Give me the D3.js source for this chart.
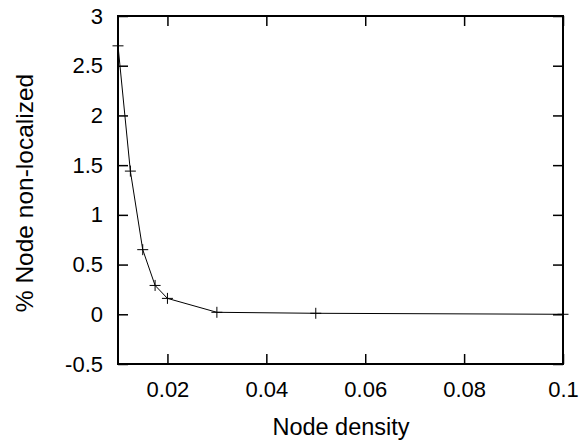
<!DOCTYPE html>
<html>
<head>
<meta charset="utf-8">
<script src="https://cdn.jsdelivr.net/npm/d3@7"></script>
<style>
  body { margin: 0; background: #fff; }
  svg text { font-family: "Liberation Sans", Arial, sans-serif; font-size: 22px; fill: #000; }
</style>
</head>
<body>
<svg id="chart" width="580" height="442"></svg>
<script>
// data
var density = [0.01, 0.0125, 0.015, 0.0175, 0.02, 0.03, 0.05, 0.1];
var nonLocalized = [2.7, 1.44, 0.65, 0.29, 0.16, 0.02, 0.01, 0.0];
var xTicks = [0.02, 0.04, 0.06, 0.08, 0.1];
var yTicks = [-0.5, 0, 0.5, 1, 1.5, 2, 2.5, 3];

var width = 580, height = 442;
var margin = {top: 16, right: 17, bottom: 78, left: 118};

var svg = d3.select("#chart");

var x = d3.scaleLinear().domain([0.01, 0.1]).range([margin.left, width - margin.right]);
var y = d3.scaleLinear().domain([-0.5, 3]).range([height - margin.bottom, margin.top]);

var tickLen = 10;

// plain hyphen for negatives, like the original
var numFmt = function(d) { return String(d); };

// ticks, mirrored on all four sides (pointing inward)
var bottomAxis = d3.axisBottom(x).tickValues(xTicks).tickSizeInner(-tickLen).tickSizeOuter(0).tickPadding(17)
    .tickFormat(function(d) { return d === 0.1 ? "0.1" : d3.format(".2f")(d); });
var topAxis = d3.axisTop(x).tickValues(xTicks).tickSizeInner(-tickLen).tickSizeOuter(0).tickFormat("");
var leftAxis = d3.axisLeft(y).tickValues(yTicks).tickSizeInner(-tickLen).tickSizeOuter(0).tickPadding(15)
    .tickFormat(numFmt);
var rightAxis = d3.axisRight(y).tickValues(yTicks).tickSizeInner(-tickLen).tickSizeOuter(0).tickFormat("");

function styleAxis(g) {
  g.select(".domain").remove();
  g.selectAll(".tick line").attr("stroke", "#000").attr("stroke-width", 1.5);
  g.selectAll(".tick text").attr("fill", "#000");
  g.attr("font-size", null).attr("font-family", null);
}

svg.append("g").attr("transform", "translate(0," + (height - margin.bottom) + ")").call(bottomAxis).call(styleAxis);
svg.append("g").attr("transform", "translate(0," + margin.top + ")").call(topAxis).call(styleAxis);
svg.append("g").attr("transform", "translate(" + margin.left + ",0)").call(leftAxis).call(styleAxis);
svg.append("g").attr("transform", "translate(" + (width - margin.right) + ",0)").call(rightAxis).call(styleAxis);

// frame
svg.append("rect")
  .attr("x", margin.left).attr("y", margin.top)
  .attr("width", width - margin.left - margin.right)
  .attr("height", height - margin.top - margin.bottom)
  .attr("fill", "none").attr("stroke", "#000").attr("stroke-width", 2);

// data line
var pts = density.map(function(d, i) { return [d, nonLocalized[i]]; });
var line = d3.line().x(function(d) { return x(d[0]); }).y(function(d) { return y(d[1]); });

svg.append("path")
  .datum(pts)
  .attr("d", line)
  .attr("fill", "none")
  .attr("stroke", "#000")
  .attr("stroke-width", 1);

// plus markers
var m = 5.5;
svg.append("g").selectAll("path.mark")
  .data(pts)
  .enter()
  .append("path")
  .attr("class", "mark")
  .attr("d", function(d) {
    var px = x(d[0]), py = y(d[1]);
    return "M" + (px - m) + "," + py + "H" + (px + m) + "M" + px + "," + (py - m) + "V" + (py + m);
  })
  .attr("stroke", "#000")
  .attr("stroke-width", 1);

// axis titles
svg.append("text")
  .attr("x", 341)
  .attr("y", 435)
  .attr("text-anchor", "middle")
  .style("font-size", "23.5px")
  .text("Node density");

svg.append("text")
  .attr("transform", "translate(33,193) rotate(-90)")
  .attr("text-anchor", "middle")
  .style("font-size", "24.5px")
  .text("% Node non-localized");
</script>
</body>
</html>
